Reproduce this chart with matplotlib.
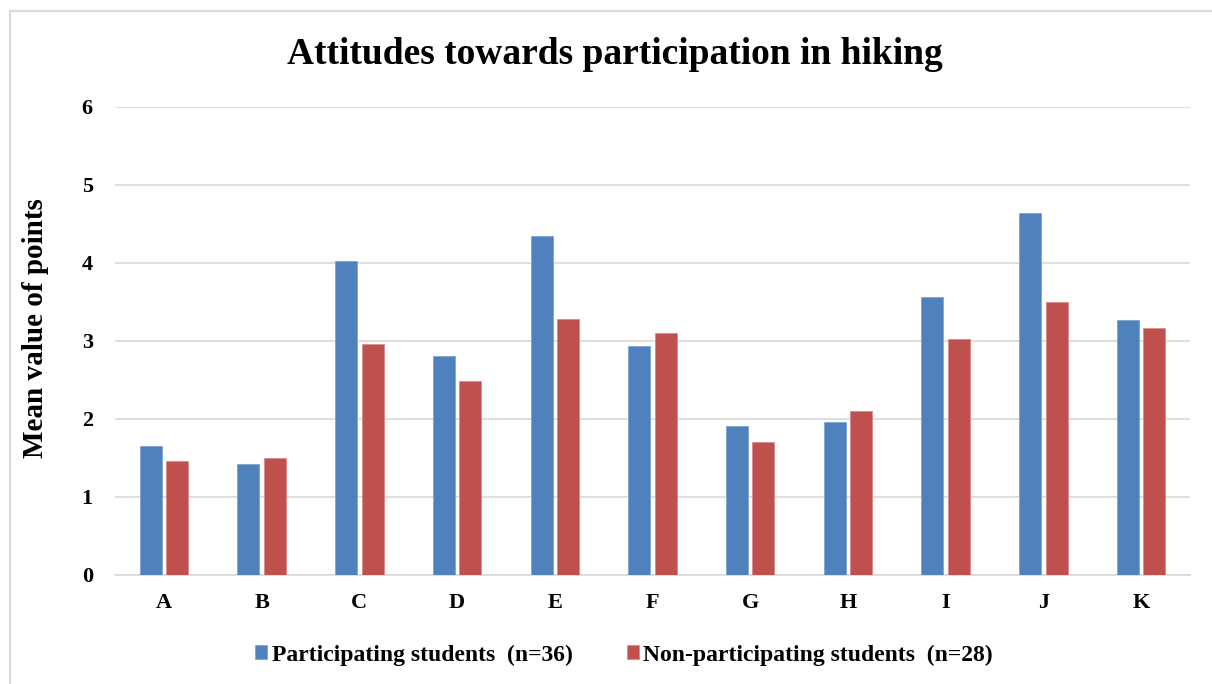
import numpy as np
import matplotlib
matplotlib.use("Agg")
import matplotlib.pyplot as plt
from matplotlib.patches import Rectangle

# data
categories = ["A", "B", "C", "D", "E", "F", "G", "H", "I", "J", "K"]
participating = [1.66, 1.42, 4.02, 2.81, 4.35, 2.94, 1.91, 1.96, 3.56, 4.64, 3.27]
non_participating = [1.46, 1.50, 2.96, 2.49, 3.28, 3.10, 1.71, 2.10, 3.03, 3.50, 3.17]
series_names = ["Participating students  (n=36)", "Non-participating students  (n=28)"]

plt.rcParams['font.family'] = ['Liberation Serif', 'DejaVu Serif']
plt.rcParams['font.weight'] = 'bold'

fig = plt.figure(figsize=(12.12, 6.84), dpi=100)
ax = fig.add_axes([115/1212, 1 - 575/684, (1190-115)/1212, (575-107)/684])

# outer chart frame (only top and left edges visible)
fig.patches.append(Rectangle((9.5/1212, -0.1), 1.2, 1 - 11.5/684 + 0.1,
                             transform=fig.transFigure, fill=False,
                             edgecolor="#d9d9d9", linewidth=1.5))

x = np.arange(len(categories))
w = 0.225
off = 0.135
ax.bar(x - off, participating, w, color="#4f81bd", edgecolor="#7ea3d3", linewidth=0.6,
       label=series_names[0], zorder=3)
ax.bar(x + off, non_participating, w, color="#c0504d", edgecolor="#d98b89", linewidth=0.6,
       label=series_names[1], zorder=3)

ax.set_xlim(-0.5, len(categories) - 0.5)
ax.set_ylim(0, 6)
ax.set_yticks(range(0, 7))
ax.set_xticks(x)
ax.set_xticklabels(categories)
ax.grid(axis="y", color="#d9d9d9", linewidth=1.2, zorder=0)
for s in ["top", "right", "left"]:
    ax.spines[s].set_visible(False)
ax.spines["bottom"].set_color("#d9d9d9")
ax.spines["bottom"].set_linewidth(1.2)
ax.tick_params(length=0, labelsize=16, pad=13)
ax.tick_params(axis="y", pad=16)

ax.set_ylabel("Mean value of points", fontsize=21, fontweight="bold")
ax.yaxis.set_label_coords((49 - 115) / 1075, (575 - 328) / 468)
fig.text(615/1212, 1 - 55/684, "Attitudes towards participation in hiking",
         ha="center", va="center", fontsize=27, fontweight="bold")

fig.legend(loc="center", bbox_to_anchor=(624/1212, 1 - 655/684), ncol=2,
           frameon=False, fontsize=17, handlelength=0.5, handleheight=0.5,
           handletextpad=0.2, columnspacing=2.3)

fig.savefig("out.png", dpi=100)
